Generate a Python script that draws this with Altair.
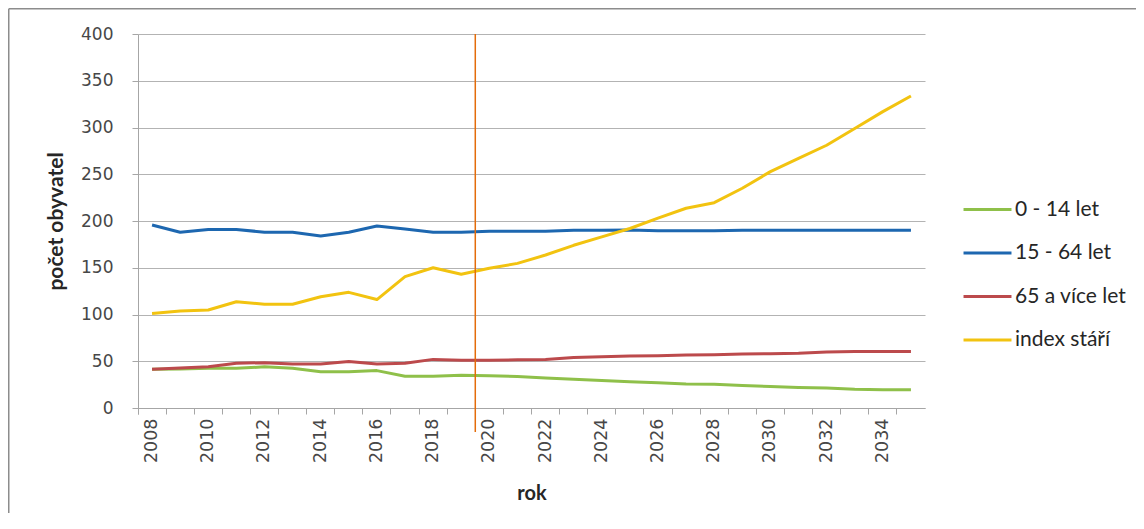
import altair as alt
import pandas as pd

years = [str(y) for y in range(2008, 2036)]
kids = [41.4, 41.7, 42.4, 42.4, 44, 42.4, 38.8, 38.8, 40, 34, 34, 35,
        34.6, 33.6, 32, 30.8, 29.4, 28, 27, 25.7, 25.3, 24, 23, 22, 21.3, 20, 19.5, 19.5]
working = [195.7, 188, 191, 191, 188, 188, 184, 188, 194.6, 191.5, 188, 188,
           189, 189, 189, 190, 190, 190.5, 189.5, 189.5, 189.5, 190, 190, 190, 190, 190, 190, 190]
seniors = [41.4, 42.8, 44, 47.8, 48.5, 47, 47, 49.8, 47, 47.8, 52, 51,
           51, 51.5, 52, 54, 54.8, 55.6, 56, 56.7, 57, 57.7, 58, 58.5, 60, 60.5, 60.5, 60.5]
aging = [101, 103.7, 104.8, 113.7, 111, 111, 119, 123.7, 116, 140.5, 150, 143,
         149.4, 154.7, 163.6, 174, 183, 192, 203, 213.6, 219.6, 235, 252.8, 267, 281, 299, 317, 333.7]
series_names = ["0 - 14 let", "15 - 64 let", "65 a více let", "index stáří"]
series_colors = ["#8FC04A", "#1D67B0", "#BC4A4C", "#F2C310"]
forecast_start = ["2020"]

rows = []
for name, vals in zip(series_names, [kids, working, seniors, aging]):
    for y, v in zip(years, vals):
        rows.append({"rok": y, "hodnota": v, "skupina": name})
df = pd.DataFrame(rows)

W, H = 787, 374
PL, PT, PR, PB = 130, 26, 211, 105
FONT = "DejaVu Sans"
TFONT = "Lato"

xscale = alt.Scale(type="band", paddingInner=0, paddingOuter=0)

lines = alt.Chart(df).mark_line(strokeWidth=3, strokeJoin="round").encode(
    x=alt.X("rok:O", scale=xscale, bandPosition=0.5,
            axis=alt.Axis(title="rok", labelAngle=270, bandPosition=0, tickExtra=True,
                          labelExpr="parseInt(datum.value) % 2 == 0 ? datum.value : ''",
                          labelFont=FONT, labelFontSize=17.5, labelColor="#474747",
                          labelPadding=4, tickSize=6, tickColor="#A6A6A6",
                          domainColor="#A6A6A6", grid=False,
                          titleFont=TFONT, titleFontSize=20, titleFontWeight="bold",
                          titleColor="#262626", titlePadding=21)),
    y=alt.Y("hodnota:Q", scale=alt.Scale(domain=[0, 400]),
            axis=alt.Axis(title="počet obyvatel", values=list(range(0, 401, 50)),
                          labelFont=FONT, labelFontSize=17, labelColor="#474747",
                          labelPadding=19, tickSize=6, tickColor="#A6A6A6",
                          domainColor="#A6A6A6", gridColor="#B3B3B3",
                          titleFont=TFONT, titleFontSize=21, titleFontWeight="bold",
                          titleColor="#262626", titlePadding=14)),
    color=alt.Color("skupina:N",
                    scale=alt.Scale(domain=series_names, range=series_colors),
                    legend=alt.Legend(title=None, orient="none", legendX=824, legendY=150,
                                      symbolType="stroke", symbolSize=2300,
                                      symbolStrokeWidth=3, labelFont=TFONT,
                                      labelFontSize=21, labelColor="#262626",
                                      labelOffset=2, rowPadding=7.5)),
)

vline = alt.Chart(pd.DataFrame({"rok": forecast_start})).mark_rule(
    color="#E46C0A", strokeWidth=1.5).encode(
    x=alt.X("rok:O", scale=xscale, bandPosition=0),
    y=alt.value(0), y2=alt.value(H + 24))

frame_top = alt.Chart(pd.DataFrame({"a": [0]})).mark_rule(
    stroke="#8C8C8C", strokeWidth=1.5).encode(
    x=alt.value(-PL + 0.75), x2=alt.value(W + PR), y=alt.value(-PT + 0.75))
frame_left = alt.Chart(pd.DataFrame({"a": [0]})).mark_rule(
    stroke="#8C8C8C", strokeWidth=1.5).encode(
    x=alt.value(-PL + 0.75), y=alt.value(-PT + 0.75), y2=alt.value(H + PB))

chart = alt.layer(frame_top, frame_left, lines, vline).properties(
    width=W, height=H,
    autosize=alt.AutoSizeParams(type="none"),
    padding={"left": PL, "top": PT, "right": PR, "bottom": PB},
).configure_view(stroke=None)

chart.save("out.html", embed_options={"renderer": "svg", "actions": False})
